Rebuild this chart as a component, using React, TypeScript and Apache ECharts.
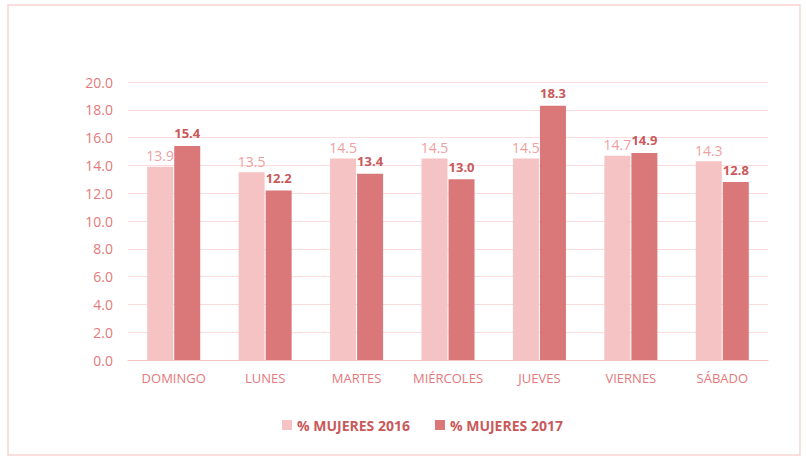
import React, { useEffect, useRef } from "react";
import * as echarts from "echarts";

const categories = ["DOMINGO", "LUNES", "MARTES", "MIÉRCOLES", "JUEVES", "VIERNES", "SÁBADO"];
const mujeres2016 = [13.9, 13.5, 14.5, 14.5, 14.5, 14.7, 14.3];
const mujeres2017 = [15.4, 12.2, 13.4, 13.0, 18.3, 14.9, 12.8];
const seriesNames = ["% MUJERES 2016", "% MUJERES 2017"];

export default function App() {
  const ref = useRef<HTMLDivElement>(null);
  useEffect(() => {
    if (!ref.current) return;
    const chart = echarts.init(ref.current, null, { renderer: "svg" });
    const font = "'Open Sans', 'Liberation Sans', sans-serif";
    chart.setOption({
      animation: false,
      backgroundColor: "#ffffff",
      textStyle: { fontFamily: font },
      graphic: [
        {
          type: "rect",
          shape: { x: 8, y: 5, width: 792, height: 450 },
          style: { fill: "none", stroke: "#f7d3d3", lineWidth: 1.5 },
        },
      ],
      grid: { left: 128, right: 38, top: 82, bottom: 97 },
      legend: {
        top: 413,
        left: 277,
        itemWidth: 10,
        itemHeight: 10,
        itemGap: 25,
        icon: "rect",
        textStyle: { color: "#c9595b", fontWeight: "bold", fontSize: 14, fontFamily: font },
        data: seriesNames,
      },
      xAxis: {
        type: "category",
        data: categories,
        axisLine: { lineStyle: { color: "#f3c2c2", width: 1 } },
        axisTick: { show: false },
        axisLabel: { color: "#e5797b", fontSize: 13, margin: 11, fontFamily: font },
      },
      yAxis: {
        type: "value",
        min: 0,
        max: 20,
        interval: 2,
        axisLine: { show: false },
        axisTick: { show: false },
        axisLabel: {
          color: "#e5797b",
          fontSize: 14,
          margin: 15,
          fontFamily: font,
          formatter: (v: number) => v.toFixed(1),
        },
        splitLine: { lineStyle: { color: "#fadcdc", width: 1 } },
      },
      series: [
        {
          name: seriesNames[0],
          type: "bar",
          data: mujeres2016,
          barWidth: 26,
          barGap: "4%",
          itemStyle: { color: "#f5c3c3" },
          label: {
            show: true,
            position: "top",
            distance: 4,
            color: "#eea0a1",
            fontSize: 14,
            fontFamily: font,
            formatter: (p: any) => p.value.toFixed(1),
          },
        },
        {
          name: seriesNames[1],
          type: "bar",
          data: mujeres2017,
          barWidth: 26,
          itemStyle: { color: "#da7779" },
          label: {
            show: true,
            position: "top",
            distance: 6,
            color: "#c9595b",
            fontWeight: "bold",
            fontSize: 13,
            fontFamily: font,
            formatter: (p: any) => p.value.toFixed(1),
          },
        },
      ],
    });
    return () => chart.dispose();
  }, []);
  return (
    <div
      ref={ref}
      style={{ position: "absolute", left: 0, top: 0, width: 806, height: 457 }}
    />
  );
}
